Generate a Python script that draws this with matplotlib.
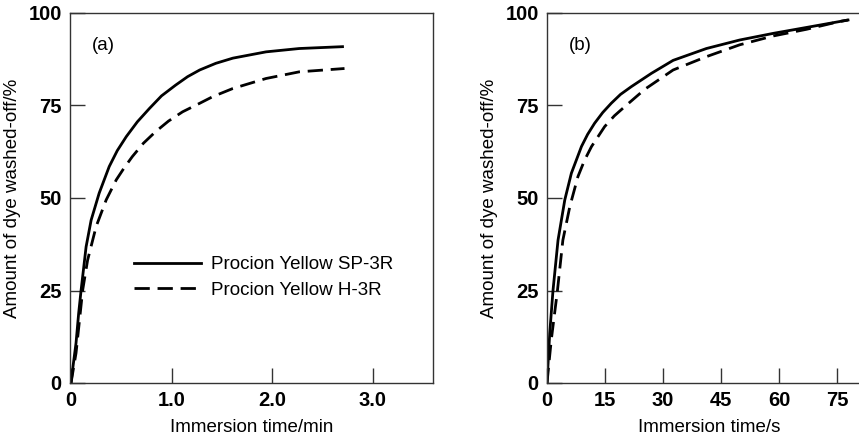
import matplotlib.pyplot as plt

plt.rcParams['font.family'] = ['Liberation Sans', 'DejaVu Sans']

# (a) tempo em minutos
t_a_sp = [0, 0.02, 0.05, 0.076, 0.10, 0.15, 0.20, 0.28, 0.38, 0.46, 0.55, 0.66, 0.78, 0.90, 1.04, 1.16, 1.28,
          1.44, 1.61, 1.94, 2.27, 2.70]
v_a_sp = [0, 4.5, 10.8, 18.8, 25.0, 36.8, 44.0, 51.3, 58.5, 62.8, 66.6, 70.6, 74.2, 77.6, 80.5, 82.8, 84.6,
          86.4, 87.8, 89.5, 90.4, 90.9]
t_a_h = [0, 0.05, 0.116, 0.165, 0.25, 0.35, 0.45, 0.53, 0.61, 0.72, 0.84, 0.97, 1.11, 1.28, 1.41, 1.61,
         1.94, 2.27, 2.72]
v_a_h = [0, 8.1, 25.1, 33.2, 42.3, 49.5, 54.9, 58.2, 61.2, 64.8, 67.9, 70.8, 73.3, 75.6, 77.4, 79.6,
         82.3, 84.1, 85.0]

# (b) tempo em segundos
t_b_sp = [0, 0.7, 1.55, 2.85, 4.6, 6.3, 8.9, 10.5, 12.3, 14.4, 16.6, 19.0, 21.8, 27.0, 32.6, 41.2, 49.8,
          58.5, 67.1, 77.8]
v_b_sp = [0, 13.4, 25.0, 38.6, 49.5, 56.7, 63.9, 67.2, 70.2, 73.1, 75.6, 78.0, 80.1, 83.7, 87.2, 90.4, 92.7,
          94.5, 96.1, 98.1]
t_b_h = [0, 1.1, 2.7, 4.1, 5.9, 8.0, 9.7, 11.5, 14.9, 17.4, 20.1, 25.3, 32.6, 41.2, 49.8, 58.5, 67.1,
         75.6, 77.8]
v_b_h = [0, 11.6, 25.0, 38.6, 47.7, 55.8, 60.2, 63.9, 69.3, 72.2, 74.7, 79.4, 84.6, 88.2, 91.4, 93.8, 95.6,
         97.7, 98.1]

labels = ['Procion Yellow SP-3R', 'Procion Yellow H-3R']
y_ticks = [0, 25, 50, 75, 100]
xt_a = [0, 1, 2, 3]
xt_a_lab = ['0', '1.0', '2.0', '3.0']
xt_b = [0, 15, 30, 45, 60, 75]

fig = plt.figure(figsize=(8.59, 4.37), dpi=100)
ax1 = fig.add_axes([70/859, 54/437, 363/859, 370/437])
ax2 = fig.add_axes([547/859, 54/437, 325/859, 370/437])

def estilo(ax):
    for s in ax.spines.values():
        s.set_color('#333333')
        s.set_linewidth(1.0)
    ax.tick_params(direction='in', length=11, width=1.0, color='#333333', pad=6)
    ax.set_ylim(0, 100)
    ax.set_yticks(y_ticks)
    ax.set_yticklabels([str(v) for v in y_ticks], fontsize=14.5, fontweight='bold')
    ax.set_ylabel('Amount of dye washed-off/%', fontsize=13.5, labelpad=5)

# Gráfico (a)
ax1.plot(t_a_sp, v_a_sp, color='black', lw=2)
ax1.plot(t_a_h, v_a_h, color='black', lw=2, dashes=(5.5, 2.8))
ax1.set_xlim(-0.01, 3.6)
estilo(ax1)
ax1.set_xticks(xt_a)
ax1.set_xticklabels(xt_a_lab, fontsize=14.5, fontweight='bold')
ax1.set_xlabel('Immersion time/min', fontsize=13.5, labelpad=6)
ax1.text(0.061, 0.911, '(a)', transform=ax1.transAxes, fontsize=13.5, va='center')
ax1.legend(labels, loc='center left', bbox_to_anchor=(0.175, 0.285), frameon=False,
           fontsize=13.5, handlelength=3.6, handletextpad=0.55, labelspacing=0.45,
           borderpad=0, borderaxespad=0)

# Gráfico (b)
ax2.plot(t_b_sp, v_b_sp, color='black', lw=2)
ax2.plot(t_b_h, v_b_h, color='black', lw=2, dashes=(5.5, 2.8))
ax2.set_xlim(0, 84)
estilo(ax2)
ax2.set_xticks(xt_b)
ax2.set_xticklabels([str(v) for v in xt_b], fontsize=14.5, fontweight='bold')
ax2.set_xlabel('Immersion time/s', fontsize=13.5, labelpad=6)
ax2.text(0.066, 0.911, '(b)', transform=ax2.transAxes, fontsize=13.5, va='center')

fig.savefig('out.png', dpi=100)
